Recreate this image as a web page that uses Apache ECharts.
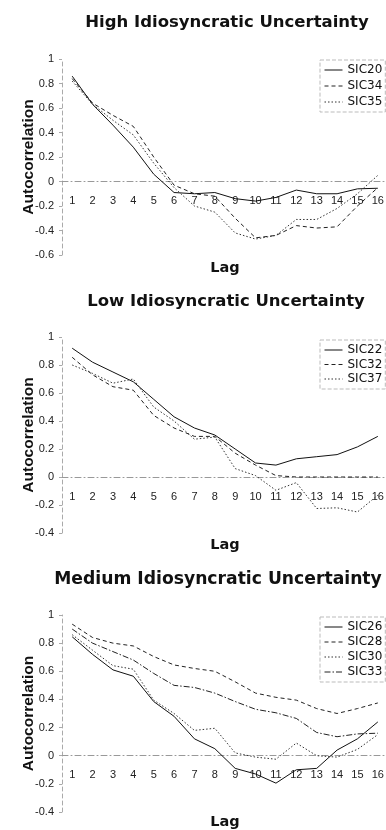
<!DOCTYPE html>
<html>
<head>
<meta charset="utf-8">
<script src="https://cdn.jsdelivr.net/npm/echarts@6/dist/echarts.min.js"></script>
<style>
html,body{margin:0;padding:0;background:#fff;}
#chart{width:386px;height:830px;}
</style>
</head>
<body>
<div id="chart"></div>
<script>
const lags = ['1','2','3','4','5','6','7','8','9','10','11','12','13','14','15','16'];

const titles = ['High Idiosyncratic Uncertainty', 'Low Idiosyncratic Uncertainty', 'Medium Idiosyncratic Uncertainty'];

// High idiosyncratic uncertainty
const sic20 = [0.86, 0.63, 0.46, 0.28, 0.06, -0.09, -0.10, -0.09, -0.14, -0.16, -0.13, -0.07, -0.10, -0.10, -0.06, -0.055];
const sic34 = [0.84, 0.64, 0.54, 0.45, 0.20, -0.03, -0.10, -0.12, -0.30, -0.46, -0.44, -0.36, -0.38, -0.37, -0.20, -0.05];
const sic35 = [0.82, 0.63, 0.50, 0.38, 0.15, -0.05, -0.20, -0.25, -0.42, -0.47, -0.44, -0.31, -0.31, -0.22, -0.10, 0.05];

// Low idiosyncratic uncertainty
const sic22 = [0.92, 0.82, 0.75, 0.68, 0.555, 0.43, 0.35, 0.30, 0.20, 0.10, 0.085, 0.13, 0.145, 0.16, 0.215, 0.29];
const sic32 = [0.855, 0.73, 0.645, 0.62, 0.44, 0.35, 0.29, 0.29, 0.17, 0.085, 0.01, 0.0, 0.0, 0.0, 0.0, 0.0];
const sic37 = [0.80, 0.74, 0.67, 0.70, 0.50, 0.40, 0.27, 0.285, 0.06, 0.01, -0.095, -0.04, -0.225, -0.22, -0.25, -0.13];

// Medium idiosyncratic uncertainty
const sic26 = [0.845, 0.72, 0.61, 0.565, 0.385, 0.28, 0.12, 0.05, -0.09, -0.13, -0.195, -0.10, -0.09, 0.04, 0.12, 0.24];
const sic28 = [0.935, 0.84, 0.80, 0.78, 0.705, 0.645, 0.62, 0.60, 0.525, 0.445, 0.415, 0.395, 0.335, 0.30, 0.335, 0.375];
const sic30 = [0.86, 0.75, 0.64, 0.615, 0.395, 0.30, 0.18, 0.195, 0.02, -0.01, -0.025, 0.09, 0.0, -0.01, 0.045, 0.15];
const sic33 = [0.90, 0.80, 0.74, 0.68, 0.585, 0.50, 0.485, 0.445, 0.385, 0.33, 0.305, 0.265, 0.165, 0.135, 0.155, 0.16];

const yMins = [-0.6, -0.4, -0.4];

const panels = [
  {top: 59, height: 196, titleTop: 9, titleX: 222, titleSize: 16.5, lagGap: 79, legendTop: 60, legendGap: 4,
   series: [['SIC20', sic20, 'solid'], ['SIC34', sic34, 'dashed'], ['SIC35', sic35, 'dotted']]},
  {top: 337, height: 196, titleTop: 288, titleX: 221, titleSize: 16.5, lagGap: 61, legendTop: 340, legendGap: 2.5,
   series: [['SIC22', sic22, 'solid'], ['SIC32', sic32, 'dashed'], ['SIC37', sic37, 'dotted']]},
  {top: 615, height: 197, titleTop: 566, titleX: 213, titleSize: 17.2, lagGap: 59.5, legendTop: 617, legendGap: 3,
   series: [['SIC26', sic26, 'solid'], ['SIC28', sic28, 'dashed'], ['SIC30', sic30, 'dotted'], ['SIC33', sic33, 'dashdot']]}
];

const styleFor = {
  solid: {color: '#111', type: 'solid'},
  dashed: {color: '#222', type: [4, 3]},
  dotted: {color: '#333', type: [1.5, 2]},
  dashdot: {color: '#222', type: [6, 2, 1.5, 2]}
};

const option = {
  animation: false,
  backgroundColor: '#fff',
  title: [], grid: [], xAxis: [], yAxis: [], legend: [], series: []
};

panels.forEach((p, i) => {
  const yMin = yMins[i];
  // distance from grid bottom up to the zero line (layout of the axis, derived from the scale range)
  const zeroOffset = p.height * (0 - yMin) / (1 - yMin);
  option.title.push({
    text: titles[i], left: p.titleX, top: p.titleTop, textAlign: 'center',
    textStyle: {fontFamily: 'DejaVu Sans', fontWeight: 'bold', fontSize: p.titleSize, color: '#111'}
  });
  option.grid.push({left: 62, right: -2, top: p.top, height: p.height, containLabel: false, outerBoundsMode: 'none'});
  option.xAxis.push({
    type: 'category', gridIndex: i, data: lags, boundaryGap: true, position: 'bottom',
    offset: -zeroOffset,
    axisLine: {onZero: false, lineStyle: {color: '#999', width: 1, type: [6, 3, 1, 3]}},
    axisTick: {show: false},
    axisLabel: {margin: 14, fontFamily: 'Liberation Sans', fontSize: 11, color: '#222', interval: 0},
    name: 'Lag', nameLocation: 'middle', nameGap: p.lagGap, nameMoveOverlap: false,
    nameTextStyle: {fontFamily: 'DejaVu Sans', fontWeight: 'bold', fontSize: 14.5, color: '#111'},
    splitLine: {show: false}
  });
  option.yAxis.push({
    type: 'value', gridIndex: i, min: yMin, max: 1, interval: 0.2,
    axisLine: {show: true, onZero: false, lineStyle: {color: '#aaa', width: 1, type: [4, 3]}},
    axisTick: {show: true, length: 3, lineStyle: {color: '#aaa'}},
    axisLabel: {margin: 8, fontFamily: 'Liberation Sans', fontSize: 11, color: '#222',
      formatter: v => String(Math.round(v * 10) / 10)},
    splitLine: {show: false},
    name: 'Autocorrelation', nameLocation: 'middle', nameGap: 25, nameMoveOverlap: false,
    nameTextStyle: {fontFamily: 'Liberation Sans', fontWeight: 'bold', fontSize: 15.5, color: '#111'}
  });
  option.legend.push({
    orient: 'vertical', left: 320, top: p.legendTop, padding: [4, 3, 4, 4],
    itemWidth: 18, itemHeight: 12, itemGap: p.legendGap,
    borderColor: '#bbb', borderWidth: 1, borderType: 'dashed',
    itemStyle: {opacity: 0},
    lineStyle: {width: 1},
    data: p.series.map(s => s[0]),
    textStyle: {fontFamily: 'DejaVu Sans', fontSize: 12, color: '#111'}
  });
  p.series.forEach(s => {
    const st = styleFor[s[2]];
    option.series.push({
      type: 'line', name: s[0], xAxisIndex: i, yAxisIndex: i, data: s[1],
      symbol: 'none', lineStyle: {color: st.color, width: 1, type: st.type}, itemStyle: {color: st.color}
    });
  });
});

const chart = echarts.init(document.getElementById('chart'), null, {renderer: 'canvas'});
chart.setOption(option);
</script>
</body>
</html>
